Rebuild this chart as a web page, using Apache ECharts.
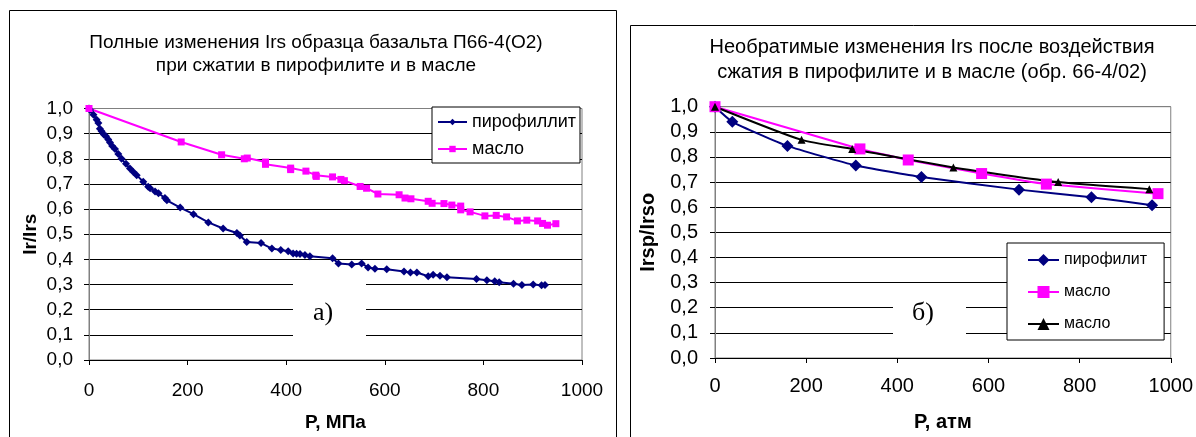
<!DOCTYPE html>
<html>
<head>
<meta charset="utf-8">
<script src="https://cdn.jsdelivr.net/npm/echarts@6/dist/echarts.min.js"></script>
<style>
  html, body { margin: 0; padding: 0; background: #fff; }
  #chart { width: 1196px; height: 437px; }
</style>
</head>
<body>
<div id="chart"></div>
<script>
// Panel а): full change of Ir/Irs with pressure P, MPa
const pyroA = [
  [0, 1.000], [2, 0.994], [9, 0.975], [15.6, 0.955], [19, 0.942], [22, 0.919],
  [25.6, 0.910], [30, 0.897], [34.5, 0.890], [39, 0.877], [42.6, 0.865], [47, 0.851],
  [52.7, 0.839], [59.4, 0.819], [66, 0.800], [75, 0.780], [83, 0.761], [90, 0.748],
  [96.7, 0.735], [110, 0.709], [120, 0.689], [124, 0.683], [134, 0.670], [141, 0.663],
  [154, 0.644], [158, 0.635], [185, 0.606], [212, 0.580], [242, 0.547], [272, 0.523],
  [300, 0.505], [306, 0.495], [320, 0.469], [349, 0.465], [371, 0.443], [389, 0.437],
  [404, 0.432], [414, 0.423], [421, 0.422], [428, 0.421], [438, 0.417], [448, 0.413],
  [494, 0.405], [506, 0.384], [533, 0.380], [553, 0.384], [566, 0.368], [580, 0.363],
  [604, 0.361], [639, 0.352], [652, 0.348], [665, 0.348], [688, 0.333], [698, 0.339],
  [712, 0.335], [726, 0.329], [786, 0.322], [807, 0.317], [823, 0.313], [832, 0.309],
  [861, 0.303], [878, 0.298], [901, 0.300], [918, 0.297], [925, 0.298]
];
const oilA = [
  [0, 1.000], [187, 0.867], [269, 0.816], [315, 0.800], [321, 0.803], [358, 0.787],
  [358, 0.778], [409, 0.763], [409, 0.757], [440, 0.751], [460, 0.735], [461, 0.730],
  [494, 0.728], [511, 0.718], [518, 0.713], [550, 0.690], [563, 0.683], [586, 0.660],
  [629, 0.657], [641, 0.644], [653, 0.641], [688, 0.631], [696, 0.623], [720, 0.622],
  [736, 0.616], [754, 0.612], [754, 0.597], [773, 0.589], [803, 0.573], [826, 0.575],
  [847, 0.569], [869, 0.553], [888, 0.556], [910, 0.553], [920, 0.543], [930, 0.536],
  [947, 0.542]
];

// Panel б): irreversible change Irsp/Irso after compression, P, atm
const pyroB = [[0, 1.000], [38, 0.940], [159, 0.844], [309, 0.766], [453, 0.720], [667, 0.670], [826, 0.640], [959, 0.608]];
const oilB1 = [[0, 1.000], [318, 0.832], [424, 0.788], [585, 0.734], [727, 0.692], [972, 0.654]];
const oilB2 = [[0, 1.000], [190, 0.868], [301, 0.832], [523, 0.758], [753, 0.700], [953, 0.672]];

const titleA = ['Полные изменения Irs образца базальта П66-4(О2)', 'при сжатии в пирофилите и в масле'];
const titleB = ['Необратимые изменения Irs после воздействия', 'сжатия в пирофилите и в масле (обр. 66-4/02)'];
const legendA = ['пирофиллит', 'масло'];
const legendB = ['пирофилит', 'масло', 'масло'];

const SANS = '"Liberation Sans", Arial, sans-serif';
const SERIF = '"Liberation Serif", "Times New Roman", serif';
const NAVY = '#000080', MAGENTA = '#ff00ff', BLACK = '#000000';

// legend entries need unique series names; trailing spaces are trimmed when drawn
const nA = [legendA[0], legendA[1] + ' '];
const nB = [legendB[0], legendB[1] + '  ', legendB[2] + '   '];

const commaFmt = v => v.toFixed(1).replace('.', ',');
const plainFmt = v => String(v);
const splitColors = Array(10).fill('#000').concat(['#808080']);

function xAxisFor(grid, name, margin, gap, fs) {
  return {
    gridIndex: grid, type: 'value', min: 0, max: 1000, interval: 200,
    axisLine: { show: true, lineStyle: { color: '#000', width: 1 } },
    axisTick: { show: true, length: 5, lineStyle: { color: '#000' } },
    axisLabel: { fontSize: fs, color: '#000', margin: margin, formatter: plainFmt, fontFamily: SANS },
    splitLine: { show: false },
    name: name, nameLocation: 'middle', nameGap: gap,
    nameTextStyle: { fontSize: fs, fontWeight: 'bold', color: '#000', fontFamily: SANS }
  };
}
function yAxisFor(grid, name, margin, gap, fs) {
  return {
    gridIndex: grid, type: 'value', min: 0, max: 1, interval: 0.1,
    axisLine: { show: true, lineStyle: { color: '#808080', width: 1 } },
    axisTick: { show: true, length: 5, lineStyle: { color: '#000' } },
    axisLabel: { fontSize: fs, color: '#000', margin: margin, formatter: commaFmt, fontFamily: SANS },
    splitLine: { show: true, lineStyle: { color: splitColors, width: 1 } },
    name: name, nameLocation: 'middle', nameGap: gap, nameRotate: 90,
    nameTextStyle: { fontSize: fs, fontWeight: 'bold', color: '#000', fontFamily: SANS }
  };
}
function lineSeries(name, data, xi, color, symbol, size, smooth) {
  return {
    type: 'line', name: name, data: data, xAxisIndex: xi, yAxisIndex: xi,
    symbol: symbol, symbolSize: size, showAllSymbol: true, smooth: smooth || false,
    lineStyle: { color: color, width: 2 },
    itemStyle: { color: color, borderWidth: 0 },
    emphasis: { disabled: true }
  };
}
function textEl(x, y, text, font, lh) {
  return {
    type: 'text', x: x, y: y, z: 10,
    style: {
      text: text, font: font, fill: '#000', lineHeight: lh,
      align: 'center', verticalAlign: 'middle', textAlign: 'center', textVerticalAlign: 'middle'
    }
  };
}

const chart = echarts.init(document.getElementById('chart'), null, { renderer: 'canvas' });
chart.setOption({
  animation: false,
  backgroundColor: '#fff',
  textStyle: { fontFamily: SANS },
  grid: [
    { left: 89, right: 1196 - 582, top: 108.5, bottom: 437 - 365.5, show: true, borderColor: '#808080', borderWidth: 1 },
    { left: 715, right: 1196 - 1171, top: 106.7, bottom: 437 - 359, show: true, borderColor: '#808080', borderWidth: 1 }
  ],
  xAxis: [xAxisFor(0, 'P, МПа', 21, 53, 19), xAxisFor(1, 'P, атм', 18, 54, 20)],
  yAxis: [yAxisFor(0, 'Ir/Irs', 16, 49, 19), yAxisFor(1, 'Irsp/Irso', 17, 57, 20)],
  legend: [
    {
      data: nA, orient: 'vertical', left: 432, top: 107,
      padding: [6, 4, 5, 5], itemGap: 9, itemWidth: 29, itemHeight: 8,
      borderColor: '#000', borderWidth: 1, backgroundColor: '#fff', borderRadius: 0,
      formatter: n => n.trim(),
      textStyle: { fontSize: 18, color: '#000', fontFamily: SANS },
      selectedMode: false
    },
    {
      data: nB, orient: 'vertical', left: 1007, top: 243,
      padding: [9, 17, 8, 20], itemGap: 16, itemWidth: 31, itemHeight: 15,
      borderColor: '#000', borderWidth: 1, backgroundColor: '#fff', borderRadius: 0,
      formatter: n => n.trim(),
      textStyle: { fontSize: 16, color: '#000', fontFamily: SANS },
      selectedMode: false
    }
  ],
  graphic: [
    // chart frames
    { type: 'rect', z: 0, shape: { x: 9.5, y: 10.5, width: 607, height: 600 }, style: { fill: 'none', stroke: '#000', lineWidth: 1 } },
    { type: 'rect', z: 0, shape: { x: 630.5, y: 25.5, width: 600, height: 600 }, style: { fill: 'none', stroke: '#000', lineWidth: 1 } },
    // titles
    textEl(316, 54, titleA.join('\n'), '19px ' + SANS, 23),
    textEl(932, 59.5, titleB.join('\n'), '20px ' + SANS, 25),
    // panel letters on white patches
    { type: 'rect', z: 5, shape: { x: 293, y: 275, width: 73, height: 83 }, style: { fill: '#fff', stroke: 'none' } },
    textEl(323, 313, 'а)', '26px ' + SERIF, 26),
    { type: 'rect', z: 5, shape: { x: 893, y: 290, width: 73, height: 62 }, style: { fill: '#fff', stroke: 'none' } },
    textEl(923, 313, 'б)', '26px ' + SERIF, 26)
  ],
  series: [
    lineSeries(nA[0], pyroA, 0, NAVY, 'diamond', 8),
    lineSeries(nA[1], oilA, 0, MAGENTA, 'rect', 7),
    lineSeries(nB[0], pyroB, 1, NAVY, 'diamond', 12, 0.15),
    lineSeries(nB[1], oilB1, 1, MAGENTA, 'rect', 11, 0.1),
    lineSeries(nB[2], oilB2, 1, BLACK, 'triangle', 8, 0.2)
  ]
});
</script>
</body>
</html>
